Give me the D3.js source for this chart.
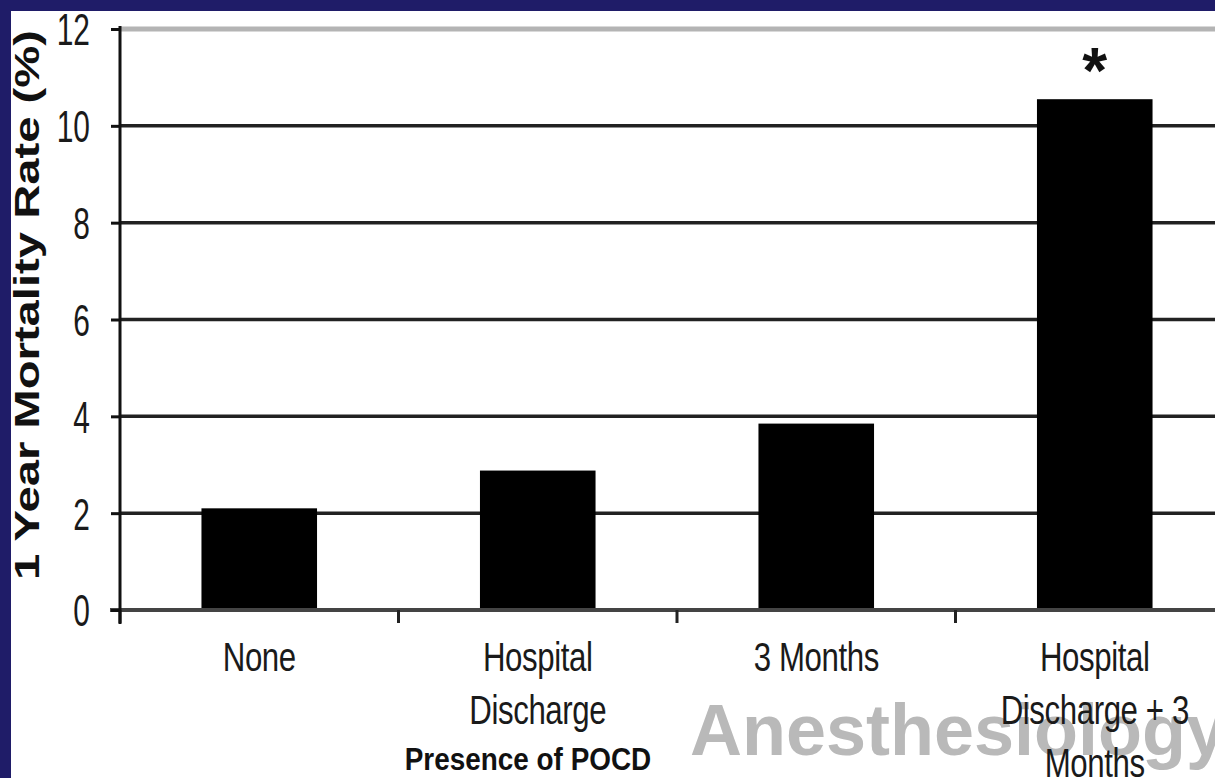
<!DOCTYPE html>
<html>
<head>
<meta charset="utf-8">
<script src="https://cdn.jsdelivr.net/npm/d3@7"></script>
<style>
  html, body { margin: 0; padding: 0; background: #1f1c68; }
  svg { display: block; }
  text { font-family: "Liberation Sans", Arial, Helvetica, sans-serif; }
</style>
</head>
<body>
<svg id="chart" width="1215" height="778"></svg>
<script>
// Presence of POCD vs. 1-year mortality
const categories = ["None", "Hospital Discharge", "3 Months", "Hospital Discharge + 3 Months"];
const categoryLines = [["None"], ["Hospital", "Discharge"], ["3 Months"], ["Hospital", "Discharge + 3", "Months"]];
const mortality = [2.1, 2.88, 3.85, 10.55];
const significant = [false, false, false, true];
const yTicks = [0, 2, 4, 6, 8, 10, 12];

const W = 1215, H = 778;
const svg = d3.select("#chart");

// navy slide frame with white panel
svg.append("rect").attr("width", W).attr("height", H).attr("fill", "#1f1c68");
svg.append("rect").attr("x", 11).attr("y", 11).attr("width", W - 11).attr("height", H - 11).attr("fill", "#ffffff");

const plotLeft = 120, plotRight = 1234, plotTop = 29, plotBottom = 610;

const x = d3.scaleBand().domain(categories).range([plotLeft, plotRight]).padding(0);
const y = d3.scaleLinear().domain([0, 12]).range([plotBottom, plotTop]);

const barFrac = 0.415;
const cx = c => x(c) + x.bandwidth() / 2;

// condensed text: a normal face squeezed horizontally around its anchor
function squeezed(parent, px, py, str, size, sx, opts = {}) {
  const g = parent.append("g").attr("transform", `translate(${px},${py}) scale(${sx},1)`);
  return g.append("text")
    .attr("x", 0).attr("y", 0)
    .attr("text-anchor", opts.anchor || "middle")
    .attr("font-size", size)
    .attr("font-weight", opts.weight || "normal")
    .attr("letter-spacing", opts.spacing || 0)
    .attr("fill", opts.fill || "#1a1a1a")
    .text(str);
}

// journal watermark (sits behind the category labels)
svg.append("text")
  .attr("x", 690).attr("y", 755)
  .attr("font-weight", "bold")
  .attr("font-size", 72)
  .attr("fill", "#b9b9b9")
  .text("Anesthesiology");

// horizontal gridlines
svg.append("g").selectAll("line")
  .data(yTicks.filter(d => d > 0))
  .join("line")
  .attr("x1", plotLeft).attr("x2", W)
  .attr("y1", d => y(d)).attr("y2", d => y(d))
  .attr("stroke", d => d === 12 ? "#b4b4b4" : "#222")
  .attr("stroke-width", d => d === 12 ? 5 : 3.5);

// bars
svg.append("g").selectAll("rect")
  .data(mortality)
  .join("rect")
  .attr("x", (d, i) => x(categories[i]) + x.bandwidth() * (1 - barFrac) / 2)
  .attr("width", x.bandwidth() * barFrac)
  .attr("y", d => y(d))
  .attr("height", d => y(0) - y(d))
  .attr("fill", "#000");

// significance marker
svg.append("g").selectAll("text")
  .data(mortality.map((v, i) => ({ v, i })).filter(d => significant[d.i]))
  .join("text")
  .attr("x", d => cx(categories[d.i]))
  .attr("y", d => y(d.v) - 6)
  .attr("text-anchor", "middle")
  .attr("font-weight", "bold")
  .attr("font-size", 64)
  .attr("fill", "#111")
  .text("*");

// x axis line
svg.append("line")
  .attr("x1", plotLeft - 10).attr("x2", W)
  .attr("y1", y(0)).attr("y2", y(0))
  .attr("stroke", "#444").attr("stroke-width", 4);

// x axis ticks between categories
svg.append("g").selectAll("line")
  .data(categories)
  .join("line")
  .attr("x1", d => x(d)).attr("x2", d => x(d))
  .attr("y1", y(0)).attr("y2", y(0) + 13)
  .attr("stroke", "#222").attr("stroke-width", 3);

// y axis
const tickSx = 0.68;
const yAxis = d3.axisLeft(y).tickValues(yTicks).tickSize(9).tickPadding(0).tickFormat(d3.format("d"));
const gy = svg.append("g").attr("transform", `translate(${plotLeft},0)`).call(yAxis);
gy.select(".domain").remove();
gy.append("line").attr("x1", 0).attr("x2", 0).attr("y1", plotTop - 3).attr("y2", plotBottom + 14)
  .attr("stroke", "#111").attr("stroke-width", 3);
gy.selectAll(".tick line").attr("stroke", "#111").attr("stroke-width", 3);
gy.selectAll(".tick text")
  .attr("font-family", "Liberation Sans, Arial, sans-serif")
  .attr("font-size", 44)
  .attr("fill", "#1a1a1a")
  .attr("transform", `scale(${tickSx},1)`)
  .attr("x", -30 / tickSx)
  .attr("dy", "0.36em");

// y axis title
svg.append("text")
  .attr("transform", `translate(39,305) rotate(-90)`)
  .attr("text-anchor", "middle")
  .attr("font-weight", "bold")
  .attr("font-size", 35)
  .attr("textLength", 550)
  .attr("lengthAdjust", "spacingAndGlyphs")
  .attr("fill", "#111")
  .text("1 Year Mortality Rate (%)");

// category labels
const lineGap = 53;
categoryLines.forEach((lines, i) => {
  lines.forEach((ln, j) => {
    squeezed(svg, cx(categories[i]), 671 + j * lineGap, ln, 40, 0.78, { spacing: -0.5 });
  });
});

// x axis title
squeezed(svg, 528, 770, "Presence of POCD", 31, 0.9, { weight: "bold", fill: "#111" });
</script>
</body>
</html>
